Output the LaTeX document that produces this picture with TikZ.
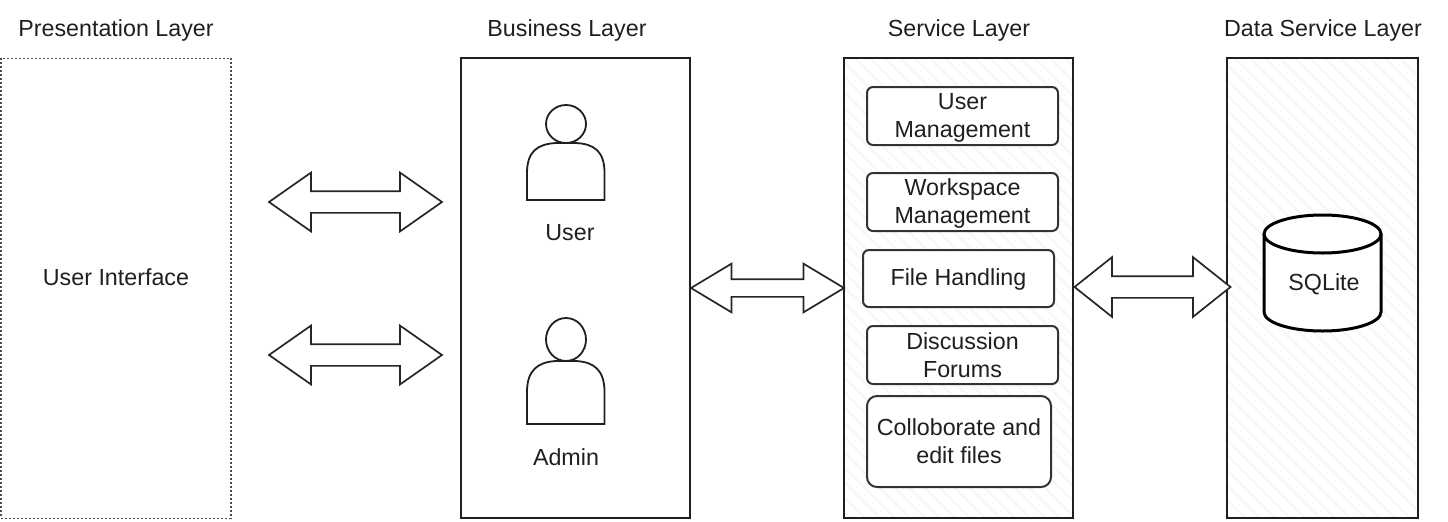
\documentclass[tikz,border=0pt]{standalone}
\usepackage{fontspec}
\setmainfont{Liberation Sans}
\usetikzlibrary{shapes.arrows}
\newlength{\pxu}
\setlength{\pxu}{0.75pt}
\tikzset{
  x=0.75pt, y=-0.75pt,
  every node/.style={font=\fontsize{17.45pt}{21pt}\selectfont, text=black!88},
  lbl/.style={inner sep=0pt, align=center},
  layerbox/.style={draw=black!88, line width=2\pxu, rectangle, inner sep=0pt, anchor=north west},
  svcbox/.style={draw=black!80, line width=2\pxu, fill=white, rectangle, rounded corners=6\pxu, inner sep=0pt, align=center},
  dblarrow/.style={draw=black!85, fill=white, line width=1.7\pxu, shape=double arrow, inner xsep=0pt},
  hatchline/.style={draw=black!3.5, line width=2\pxu},
  figure/.style={draw=black!88, line width=1.8\pxu, fill=white},
  dbline/.style={draw=black, line width=3\pxu, fill=white},
}
\begin{document}
\begin{tikzpicture}
\useasboundingbox (0,0) rectangle (1448,521);
% hatching of the service and data boxes
\begin{scope}
  \clip (843,57) rectangle (1073,518);
  \foreach \i in {0,15,...,720} { \draw[hatchline] (\i+360,58) -- (\i+820,518); }
\end{scope}
\begin{scope}
  \clip (1226,57) rectangle (1418,518);
  \foreach \i in {0,15,...,720} { \draw[hatchline] (\i+740,58) -- (\i+1200,518); }
\end{scope}
% layer boxes
\node[draw=black!70, line width=1.5\pxu, dash pattern=on 2\pxu off 2\pxu, rectangle, inner sep=0pt, anchor=north west, minimum width=230\pxu, minimum height=460\pxu] (pres) at (0.25,57.5) {};
\node[layerbox, minimum width=229\pxu, minimum height=460\pxu] (bus) at (460,57.3) {};
\node[layerbox, minimum width=229\pxu, minimum height=460\pxu] (svc) at (843,57.3) {};
\node[layerbox, minimum width=191\pxu, minimum height=460\pxu] (data) at (1226,57.3) {};
% titles
\node[lbl] (tpres) at (116,30) {Presentation Layer};
\node[lbl] (tbus) at (567,30) {Business Layer};
\node[lbl] (tsvc) at (959,30) {Service Layer};
\node[lbl] (tdata) at (1323,30) {Data Service Layer};
\node[lbl] (ui) at (116,277.5) {User Interface};
% persons
\draw[figure] (527,200) -- (527,173) .. controls (527,151) and (538,144) .. (556,143) -- (576,143)
   .. controls (594,144) and (604.5,151) .. (604.5,173) -- (604.5,200) -- cycle;
\draw[figure] (566,124) ellipse [x radius=20, y radius=19];
\draw[figure] (527,424) -- (527,392) .. controls (527,370) and (538,362) .. (556,361) -- (576,361)
   .. controls (594,362) and (604.5,370) .. (604.5,392) -- (604.5,424) -- cycle;
\draw[figure] (566,339.5) ellipse [x radius=20, y radius=21.5];
\node[lbl] (user) at (570,233) {User};
\node[lbl] (admin) at (566,457) {Admin};
% service boxes
\node[svcbox, minimum width=191\pxu, minimum height=58\pxu] (s1) at (962.5,116) {\rule{0pt}{15.6pt}User\\Management};
\node[svcbox, minimum width=191\pxu, minimum height=58\pxu] (s2) at (962.5,202) {\rule{0pt}{14.2pt}Workspace\\Management};
\node[svcbox, minimum width=191\pxu, minimum height=57\pxu] (s3) at (958.5,278.5) {\rule{0pt}{14.2pt}File Handling};
\node[svcbox, minimum width=191\pxu, minimum height=58\pxu] (s4) at (962.5,355) {Discussion\\Forums};
\node[svcbox, minimum width=184\pxu, minimum height=91\pxu, rounded corners=10\pxu] (s5) at (959,441.5) {Colloborate and\\edit files};
% database
\draw[dbline] (1264,234) -- (1264,312) arc[start angle=180, end angle=360, x radius=58.5, y radius=-19] -- (1381,234);
\draw[dbline] (1322.5,234) ellipse [x radius=58.5, y radius=19];
\node[lbl] (sql) at (1324,284) {SQLite};
% double arrows
\node[dblarrow, minimum height=173\pxu, minimum width=57\pxu, inner ysep=10\pxu, double arrow head extend=18.5\pxu, double arrow tip angle=70] (a1) at (355.5,202) {};
\node[dblarrow, minimum height=173\pxu, minimum width=57\pxu, inner ysep=10\pxu, double arrow head extend=18.5\pxu, double arrow tip angle=70] (a2) at (355.5,355) {};
\node[dblarrow, minimum height=153\pxu, minimum width=47\pxu, inner ysep=8\pxu, double arrow head extend=15.5\pxu, double arrow tip angle=62] (a3) at (767.5,288) {};
\node[dblarrow, minimum height=156\pxu, minimum width=58\pxu, inner ysep=10\pxu, double arrow head extend=19\pxu, double arrow tip angle=77] (a4) at (1152.5,287) {};
\end{tikzpicture}
\end{document}
